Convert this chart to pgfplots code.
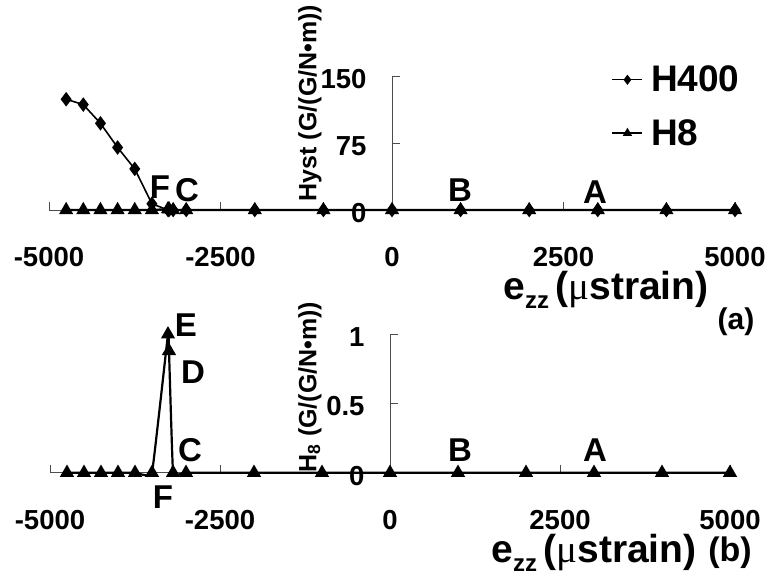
\documentclass[border=0pt]{standalone}
\usepackage{fontspec}
\setmainfont{Liberation Sans}
\newfontfamily\serifmu{Liberation Serif}
\usepackage{pgfplots}
\pgfplotsset{compat=1.18}
\pgfplotstableread{
x y
-4750 124
-4500 118
-4250 97
-4000 70
-3750 46
-3500 7
-3265 0
-3250 0
-3190 0
-3000 0
-2000 0
-1000 0
0 0
1000 0
2000 0
3000 0
4000 0
5000 0
}\hfour
\pgfplotstableread{
x y
-4750 0
-4500 0
-4250 0
-4000 0
-3750 0
-3500 0
-3265 1.0
-3250 0.88
-3190 0
-3000 0
-2000 0
-1000 0
0 0
1000 0
2000 0
3000 0
4000 0
5000 0
}\height
\pgfplotsset{
  myax/.style={
    scale only axis, anchor=south west,
    xmin=-5000, xmax=5000, ymin=0,
    axis x line=middle, axis y line=middle,
    axis line style={-, draw=gray!60!black, line width=0.8bp},
    enlargelimits=false, clip=false,
    xtick={-5000,-2500,0,2500,5000}, xticklabels={-5000,-2500,0,2500,5000},
    tick align=inside, major tick length=8bp,
    tick style={draw=gray!60!black, line width=0.8bp},
    ticklabel style={font=\bfseries\fontsize{27.5bp}{30bp}\selectfont},
    xticklabel style={anchor=center, yshift=-47bp},
    yticklabel style={anchor=east, xshift=-22bp, yshift=-3bp},
    hide obscured x ticks=false, hide obscured y ticks=false,
  },
  h4/.style={black, line width=1.6bp, mark=diamond*, mark size=6bp, mark options={solid}},
  h8/.style={black, line width=2.2bp, mark=triangle*, mark size=6bp, mark options={solid}},
}
\begin{document}
\begin{tikzpicture}
\useasboundingbox (0,0) rectangle (766bp,-584bp);
\begin{axis}[myax, at={(49bp,-210bp)}, width=686bp, height=134bp, ymax=150,
  ytick={0,75,150}, yticklabels={0,75,150},
  legend style={at={(0.82,1.09)}, anchor=north west, draw=none, fill=none,
    font=\bfseries\fontsize{37bp}{39bp}\selectfont, row sep=22bp, inner sep=0pt},
  legend cell align=left,
  legend image code/.code={\draw[mark repeat=2,mark phase=2,mark size=4bp, line width=1.4bp] plot coordinates {(0bp,0bp)(15bp,0bp)(30bp,0bp)};}]
\addplot[h4] table[x=x,y=y] {\hfour};
\addlegendentry{\hspace{6bp}H400}
\addplot[h8] table[x=x,y=y] {\height};
\addlegendentry{\hspace{6bp}H8}
\end{axis}
\begin{axis}[myax, at={(50bp,-472.7bp)}, width=680bp, height=138.4bp, ymax=1,
  ytick={0,0.5,1}, yticklabels={0,0.5,1}]
\addplot[h8, smooth, tension=0.15] table[x=x,y=y] {\height};
\end{axis}
\begin{scope}[every node/.style={font=\bfseries\fontsize{33bp}{35bp}\selectfont, inner sep=0pt}]
\node at (160bp,-187bp) {F};
\node at (187bp,-190bp) {C};
\node at (460bp,-190bp) {B};
\node at (595bp,-192bp) {A};
\node at (186bp,-325bp) {E};
\node at (193bp,-372bp) {D};
\node at (190bp,-450bp) {C};
\node at (163bp,-497bp) {F};
\node at (460bp,-450bp) {B};
\node at (595bp,-450bp) {A};
\end{scope}
\node[rotate=90, inner sep=0pt, font=\bfseries\fontsize{25bp}{27bp}\selectfont] at (310bp,-103bp) {Hyst (G/(G/N•m))};
\node[rotate=90, inner sep=0pt, font=\bfseries\fontsize{25bp}{27bp}\selectfont] at (310bp,-387bp) {H\textsubscript{8} (G/(G/N•m))};
\node[inner sep=0pt, font=\bfseries\fontsize{39bp}{41bp}\selectfont] at (606bp,-290bp) {e\raisebox{-9bp}{\fontsize{24bp}{24bp}\selectfont zz}\,({\serifmu\mdseries μ}strain)};
\node[inner sep=0pt, font=\bfseries\fontsize{30bp}{32bp}\selectfont] at (736bp,-322bp) {(a)};
\node[inner sep=0pt, font=\bfseries\fontsize{39bp}{41bp}\selectfont] at (594bp,-553bp) {e\raisebox{-9bp}{\fontsize{24bp}{24bp}\selectfont zz}\,({\serifmu\mdseries μ}strain)};
\node[inner sep=0pt, font=\bfseries\fontsize{34bp}{36bp}\selectfont] at (730bp,-553bp) {(b)};
\end{tikzpicture}
\end{document}
